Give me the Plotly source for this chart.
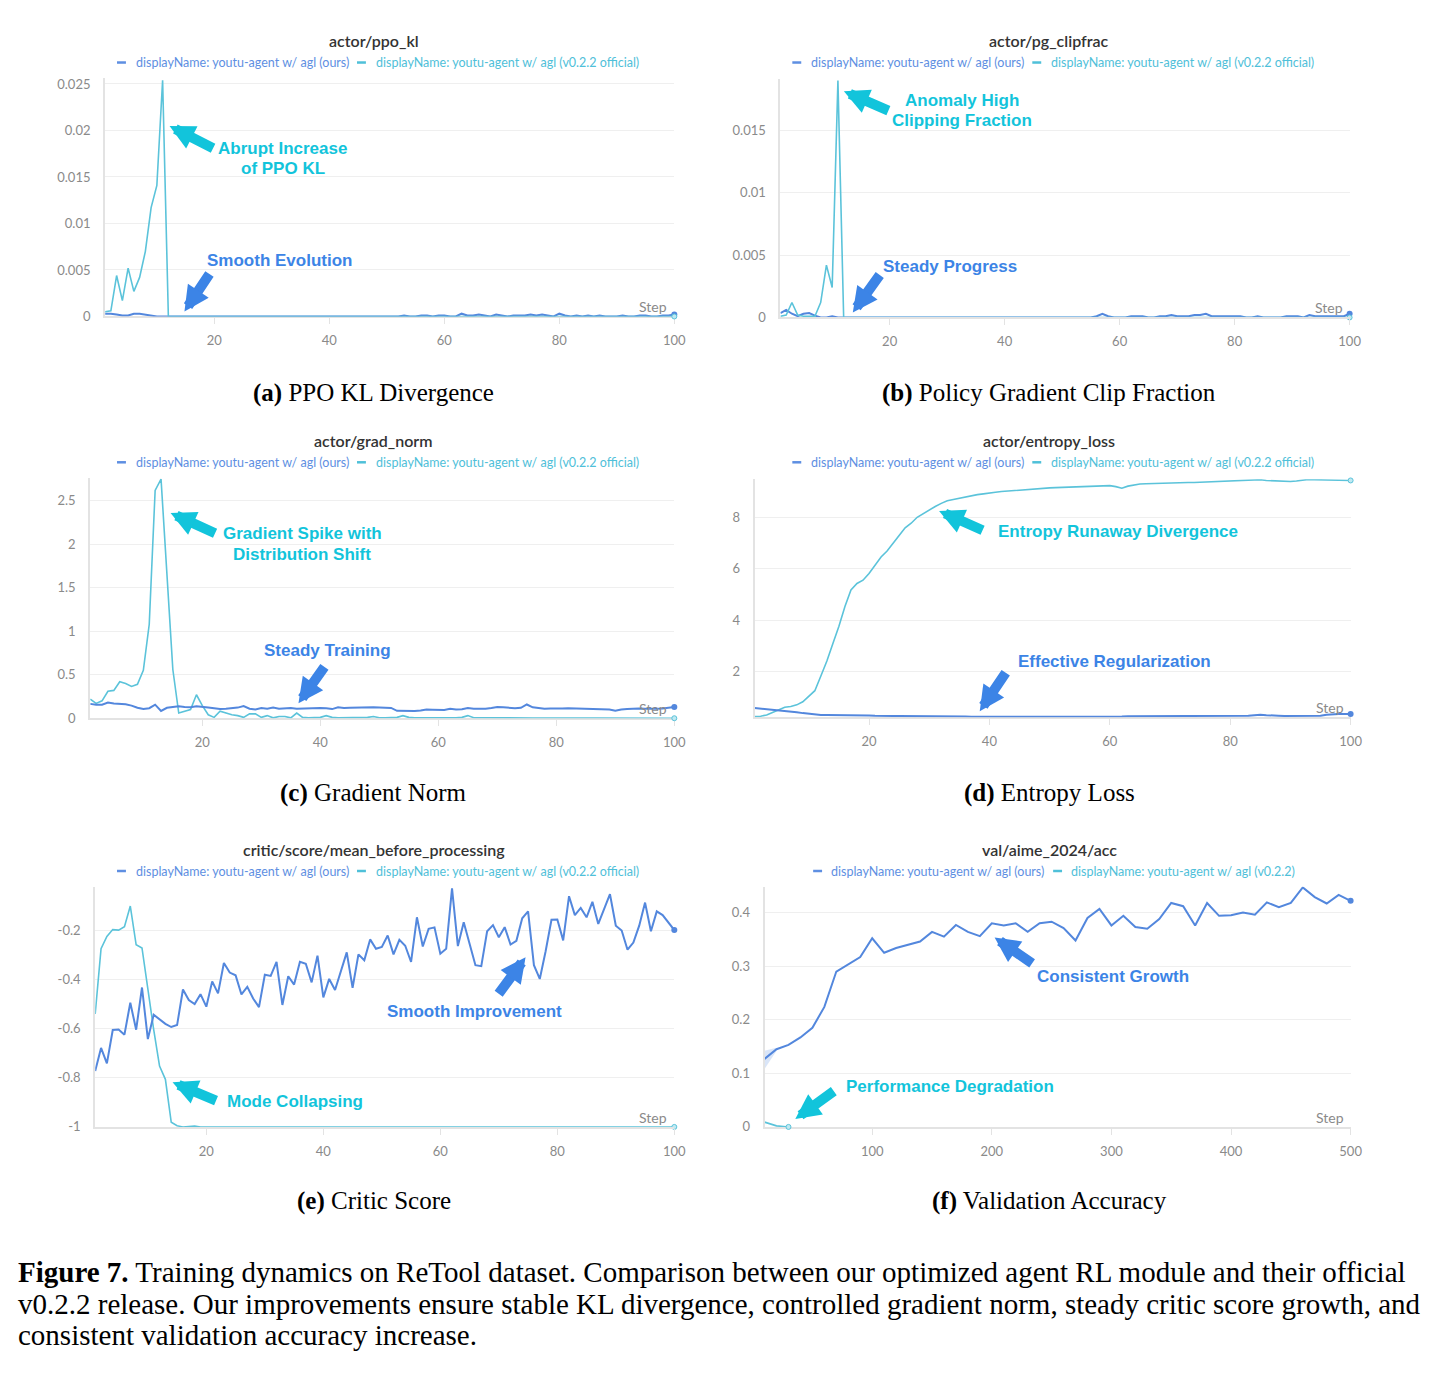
import plotly.graph_objects as go

W, H = 1436, 1375

# ---------------- data ----------------
steps = list(range(1, 101))
val_steps = list(range(10, 510, 10))

kl_ours = [
    0.0003, 0.0003, 0.0002, 0.0001, 0.0001, 0.0003, 0.0003, 0.0002, 0.0001, 0.0,
    0.0, 0.0, 0.0, 0.0, 0.0, 0.0, 0.0, 0.0, 0.0, 0.0,
    0.0, 0.0, 0.0, 0.0, 0.0, 0.0, 0.0, 0.0, 0.0, 0.0,
    0.0, 0.0, 0.0, 0.0, 0.0, 0.0, 0.0, 0.0, 0.0, 0.0,
    0.0, 0.0, 0.0, 0.0, 0.0, 0.0, 0.0, 0.0, 0.0, 0.0,
    0.0, 0.0, 0.0001, 0.0, 0.0, 0.0001, 0.0001, 0.0, 0.0001, 0.0001,
    0.0, 0.0, 0.0003, 0.0001, 0.0001, 0.0002, 0.0001, 0.0, 0.0002, 0.0001,
    0.0, 0.0001, 0.0001, 0.0001, 0.0002, 0.0001, 0.0002, 0.0001, 0.0, 0.0003,
    0.0001, 0.0, 0.0001, 0.0, 0.0001, 0.0, 0.0001, 0.0, 0.0, 0.0,
    0.0001, 0.0, 0.0, 0.0001, 0.0001, 0.0, 0.0, 0.0001, 0.0001, 0.0002,
]
kl_official = [
    0.0005, 0.0006, 0.0044, 0.0017, 0.0052, 0.0027, 0.0042, 0.0070, 0.0117, 0.0141,
    0.0254, 0.0, 0.0, 0.0, 0.0, 0.0, 0.0, 0.0, 0.0, 0.0,
    0.0, 0.0, 0.0, 0.0, 0.0, 0.0, 0.0, 0.0, 0.0, 0.0,
    0.0, 0.0, 0.0, 0.0, 0.0, 0.0, 0.0, 0.0, 0.0, 0.0,
    0.0, 0.0, 0.0, 0.0, 0.0, 0.0, 0.0, 0.0, 0.0, 0.0,
    0.0, 0.0, 0.0, 0.0, 0.0, 0.0, 0.0, 0.0, 0.0, 0.0,
    0.0, 0.0, 0.0, 0.0, 0.0, 0.0, 0.0, 0.0, 0.0, 0.0,
    0.0, 0.0, 0.0, 0.0, 0.0, 0.0, 0.0, 0.0, 0.0, 0.0,
    0.0, 0.0, 0.0, 0.0, 0.0, 0.0, 0.0, 0.0, 0.0, 0.0,
    0.0, 0.0, 0.0, 0.0, 0.0, 0.0, 0.0, 0.0, 0.0, 0.0,
]

clip_ours = [
    0.00035, 0.0006, 0.0003, 0.0001, 0.0003, 0.00035, 0.00015, 0.0, 0.0, 0.0001,
    0.0, 0.0, 0.0, 0.0, 0.0, 0.0, 0.0, 0.0, 0.0, 0.0,
    0.0, 0.0, 0.0, 0.0, 0.0, 0.0, 0.0, 0.0, 0.0, 0.0,
    0.0, 0.0, 0.0, 0.0, 0.0, 0.0, 0.0, 0.0, 0.0, 0.0,
    0.0, 0.0, 0.0, 0.0, 0.0, 0.0, 0.0, 0.0, 0.0, 0.0,
    0.0, 0.0, 0.0, 0.0, 0.0, 0.0001, 0.0003, 0.0001, 0.0, 0.0,
    0.0, 0.0001, 0.0001, 0.0001, 0.0, 0.0, 0.0001, 0.0001, 0.0002, 0.0001,
    0.0001, 0.0001, 0.0002, 0.0002, 0.0003, 0.0001, 0.0001, 0.0001, 0.0001, 0.0001,
    0.0001, 0.0, 0.0, 0.0001, 0.0, 0.0, 0.0, 0.0, 0.0001, 0.0001,
    0.0001, 0.0, 0.0002, 0.0001, 0.0001, 0.0001, 0.0001, 0.0001, 0.0001, 0.0003,
]
clip_official = [
    0.0001, 0.0002, 0.0012, 0.0002, 0.0001, 0.0001, 0.0001, 0.0012, 0.0042, 0.0024,
    0.0190, 0.0, 0.0, 0.0, 0.0, 0.0, 0.0, 0.0, 0.0, 0.0,
    0.0, 0.0, 0.0, 0.0, 0.0, 0.0, 0.0, 0.0, 0.0, 0.0,
    0.0, 0.0, 0.0, 0.0, 0.0, 0.0, 0.0, 0.0, 0.0, 0.0,
    0.0, 0.0, 0.0, 0.0, 0.0, 0.0, 0.0, 0.0, 0.0, 0.0,
    0.0, 0.0, 0.0, 0.0, 0.0, 0.0, 0.0, 0.0, 0.0, 0.0,
    0.0, 0.0, 0.0, 0.0, 0.0, 0.0, 0.0, 0.0, 0.0, 0.0,
    0.0, 0.0, 0.0, 0.0, 0.0, 0.0, 0.0, 0.0, 0.0, 0.0,
    0.0, 0.0, 0.0, 0.0, 0.0, 0.0, 0.0, 0.0, 0.0, 0.0,
    0.0, 0.0, 0.0, 0.0, 0.0, 0.0, 0.0, 0.0, 0.0, 0.0,
]

grad_ours = [
    0.165, 0.155, 0.155, 0.180, 0.170, 0.168, 0.160, 0.145, 0.120, 0.105,
    0.115, 0.156, 0.084, 0.120, 0.130, 0.137, 0.130, 0.125, 0.137, 0.133,
    0.122, 0.114, 0.106, 0.110, 0.118, 0.122, 0.140, 0.110, 0.100, 0.118,
    0.110, 0.122, 0.110, 0.114, 0.118, 0.110, 0.114, 0.118, 0.122, 0.118,
    0.115, 0.105, 0.125, 0.118, 0.120, 0.122, 0.125, 0.128, 0.125, 0.122,
    0.120, 0.118, 0.085, 0.082, 0.085, 0.083, 0.090, 0.100, 0.098, 0.100,
    0.095, 0.108, 0.100, 0.104, 0.118, 0.110, 0.108, 0.110, 0.118, 0.128,
    0.125, 0.120, 0.115, 0.120, 0.158, 0.125, 0.115, 0.110, 0.112, 0.110,
    0.112, 0.115, 0.112, 0.110, 0.108, 0.105, 0.100, 0.095, 0.100, 0.085,
    0.100, 0.105, 0.110, 0.112, 0.110, 0.105, 0.108, 0.112, 0.118, 0.130,
]
grad_official = [
    0.22, 0.17, 0.20, 0.31, 0.32, 0.42, 0.40, 0.365, 0.39, 0.55,
    1.08, 2.62, 2.75, 1.67, 0.56, 0.06, 0.076, 0.10, 0.27, 0.145,
    0.04, 0.01, 0.08, 0.06, 0.04, 0.03, 0.01, 0.05, 0.05, 0.01,
    0.03, 0.005, 0.02, 0.02, 0.005, 0.06, 0.01, 0.005, 0.005, 0.01,
    0.03, 0.01, 0.005, 0.005, 0.005, 0.004, 0.005, 0.01, 0.02, 0.005,
    0.005, 0.004, 0.01, 0.03, 0.01, 0.005, 0.004, 0.005, 0.005, 0.004,
    0.005, 0.004, 0.005, 0.01, 0.03, 0.005, 0.004, 0.005, 0.004, 0.004,
    0.004, 0.003, 0.004, 0.003, 0.004, 0.003, 0.003, 0.004, 0.003, 0.003,
    0.003, 0.003, 0.002, 0.003, 0.002, 0.003, 0.002, 0.002, 0.003, 0.002,
    0.002, 0.002, 0.002, 0.001, 0.002, 0.001, 0.001, 0.001, 0.001, 0.0,
]

entropy_ours = [
    0.59, 0.57, 0.55, 0.52, 0.50, 0.48, 0.45, 0.42, 0.39, 0.36,
    0.34, 0.32, 0.32, 0.32, 0.31, 0.31, 0.30, 0.30, 0.30, 0.30,
    0.29, 0.28, 0.28, 0.28, 0.28, 0.28, 0.27, 0.27, 0.27, 0.27,
    0.27, 0.26, 0.26, 0.26, 0.26, 0.26, 0.25, 0.25, 0.25, 0.25,
    0.245, 0.245, 0.24, 0.24, 0.24, 0.24, 0.24, 0.24, 0.24, 0.24,
    0.24, 0.24, 0.24, 0.24, 0.24, 0.24, 0.24, 0.24, 0.24, 0.245,
    0.25, 0.26, 0.27, 0.27, 0.27, 0.27, 0.27, 0.28, 0.28, 0.28,
    0.28, 0.28, 0.28, 0.28, 0.28, 0.29, 0.29, 0.29, 0.29, 0.29,
    0.29, 0.28, 0.29, 0.31, 0.33, 0.31, 0.29, 0.29, 0.28, 0.28,
    0.28, 0.28, 0.29, 0.28, 0.29, 0.33, 0.35, 0.36, 0.36, 0.36,
]
entropy_official = [
    0.26, 0.27, 0.32, 0.42, 0.53, 0.62, 0.65, 0.71, 0.83, 1.03,
    1.26, 1.83, 2.41, 3.09, 3.76, 4.53, 5.17, 5.42, 5.55, 5.81,
    6.13, 6.45, 6.68, 6.96, 7.28, 7.58, 7.76, 7.99, 8.14, 8.27,
    8.41, 8.53, 8.63, 8.68, 8.73, 8.78, 8.83, 8.87, 8.90, 8.92,
    8.96, 8.99, 9.01, 9.03, 9.04, 9.06, 9.08, 9.10, 9.12, 9.13,
    9.14, 9.15, 9.17, 9.18, 9.19, 9.20, 9.21, 9.21, 9.22, 9.22,
    9.18, 9.12, 9.20, 9.25, 9.28, 9.29, 9.30, 9.31, 9.31, 9.32,
    9.33, 9.33, 9.34, 9.34, 9.35, 9.35, 9.36, 9.36, 9.37, 9.38,
    9.39, 9.40, 9.41, 9.42, 9.45, 9.42, 9.41, 9.40, 9.39, 9.38,
    9.40, 9.43, 9.46, 9.45, 9.44, 9.45, 9.43, 9.44, 9.43, 9.42,
]

critic_ours = [
    -0.772, -0.678, -0.741, -0.605, -0.603, -0.624, -0.494, -0.604, -0.432, -0.642,
    -0.543, -0.561, -0.580, -0.593, -0.585, -0.440, -0.483, -0.499, -0.459, -0.510,
    -0.407, -0.456, -0.332, -0.371, -0.382, -0.460, -0.429, -0.477, -0.512, -0.380,
    -0.385, -0.328, -0.503, -0.386, -0.420, -0.327, -0.335, -0.411, -0.302, -0.472,
    -0.397, -0.442, -0.362, -0.289, -0.433, -0.297, -0.321, -0.236, -0.274, -0.267,
    -0.220, -0.297, -0.238, -0.262, -0.328, -0.146, -0.265, -0.193, -0.187, -0.294,
    -0.274, -0.028, -0.263, -0.166, -0.254, -0.341, -0.345, -0.203, -0.178, -0.227,
    -0.186, -0.257, -0.242, -0.150, -0.122, -0.341, -0.397, -0.284, -0.156, -0.155,
    -0.240, -0.060, -0.137, -0.108, -0.146, -0.083, -0.173, -0.116, -0.052, -0.180,
    -0.200, -0.278, -0.249, -0.180, -0.086, -0.203, -0.122, -0.137, -0.166, -0.198,
]
critic_official = [
    -0.540, -0.274, -0.224, -0.196, -0.198, -0.184, -0.100, -0.258, -0.271, -0.442,
    -0.604, -0.752, -0.806, -0.981, -0.995, -1.0, -0.998, -0.996, -1.0, -1.0,
    -1.0, -1.0, -1.0, -1.0, -1.0, -1.0, -1.0, -1.0, -1.0, -1.0,
    -1.0, -1.0, -1.0, -1.0, -1.0, -1.0, -1.0, -1.0, -1.0, -1.0,
    -1.0, -1.0, -1.0, -1.0, -1.0, -1.0, -1.0, -1.0, -1.0, -1.0,
    -1.0, -1.0, -1.0, -1.0, -1.0, -1.0, -1.0, -1.0, -1.0, -1.0,
    -1.0, -1.0, -1.0, -1.0, -1.0, -1.0, -1.0, -1.0, -1.0, -1.0,
    -1.0, -1.0, -1.0, -1.0, -1.0, -1.0, -1.0, -1.0, -1.0, -1.0,
    -1.0, -1.0, -1.0, -1.0, -1.0, -1.0, -1.0, -1.0, -1.0, -1.0,
    -1.0, -1.0, -1.0, -1.0, -1.0, -1.0, -1.0, -1.0, -1.0, -1.0,
]

acc_ours = [
    0.127, 0.145, 0.153, 0.167, 0.185, 0.224, 0.290, 0.303, 0.317, 0.352,
    0.325, 0.334, 0.340, 0.346, 0.364, 0.355, 0.377, 0.364, 0.356, 0.380,
    0.376, 0.380, 0.364, 0.380, 0.383, 0.371, 0.348, 0.390, 0.407, 0.376,
    0.394, 0.373, 0.370, 0.388, 0.418, 0.412, 0.376, 0.418, 0.394, 0.395,
    0.400, 0.396, 0.419, 0.410, 0.418, 0.447, 0.429, 0.417, 0.433, 0.422,
]
acc_band_steps = [10, 20]
acc_band_hi = [0.142, 0.148]
acc_band_lo = [0.108, 0.142]
acc_official_steps = [10, 20, 30]
acc_official = [0.009, 0.002, 0.0]

# tick labels
kl_yticks = [0, 0.005, 0.01, 0.015, 0.02, 0.025]
kl_ylabels = ["0", "0.005", "0.01", "0.015", "0.02", "0.025"]
clip_yticks = [0, 0.005, 0.01, 0.015]
clip_ylabels = ["0", "0.005", "0.01", "0.015"]
grad_yticks = [0, 0.5, 1, 1.5, 2, 2.5]
grad_ylabels = ["0", "0.5", "1", "1.5", "2", "2.5"]
entropy_yticks = [2, 4, 6, 8]
entropy_ylabels = ["2", "4", "6", "8"]
critic_yticks = [-1, -0.8, -0.6, -0.4, -0.2]
critic_ylabels = ["-1", "-0.8", "-0.6", "-0.4", "-0.2"]
acc_yticks = [0, 0.1, 0.2, 0.3, 0.4]
acc_ylabels = ["0", "0.1", "0.2", "0.3", "0.4"]
step_xticks = [20, 40, 60, 80, 100]
val_xticks = [100, 200, 300, 400, 500]

titles = ["actor/ppo_kl", "actor/pg_clipfrac", "actor/grad_norm",
          "actor/entropy_loss", "critic/score/mean_before_processing", "val/aime_2024/acc"]
legend_ours = "displayName: youtu-agent w/ agl (ours)"
legend_official = "displayName: youtu-agent w/ agl (v0.2.2 official)"
legend_official_f = "displayName: youtu-agent w/ agl (v0.2.2)"
subcaptions = [("(a)", "PPO KL Divergence"), ("(b)", "Policy Gradient Clip Fraction"),
               ("(c)", "Gradient Norm"), ("(d)", "Entropy Loss"),
               ("(e)", "Critic Score"), ("(f)", "Validation Accuracy")]

# ---------------- styling ----------------
BLUE = "#5387DD"
CYAN = "#5BC3DA"
BLUE_TXT = "#3C84E6"
CYAN_TXT = "#12C4DB"
LEG_BLUE = "#5E8FE2"
LEG_CYAN = "#4FC0D9"
AXIS = "#e3e3e3"
GRID = "#efefef"
TICKC = "#8a8a8a"
UI_FONT = "Lato"
ANN_FONT = "Liberation Sans"
SERIF = "Liberation Serif"

panels = [
    dict(xs=steps, ours=kl_ours, off=kl_official, offx=steps, xd=(106, 680), yd=(76, 316),
         xr=[1, 100], yr=[0, 0.0256], yt=kl_yticks, yl=kl_ylabels, xt=step_xticks, cx=377, ty=38, ly=60, leg=0),
    dict(xs=steps, ours=clip_ours, off=clip_official, offx=steps, xd=(787, 1361), yd=(77, 317),
         xr=[1, 100], yr=[0, 0.0191], yt=clip_yticks, yl=clip_ylabels, xt=step_xticks, cx=1058, ty=38, ly=60, leg=1),
    dict(xs=steps, ours=grad_ours, off=grad_official, offx=steps, xd=(91, 680), yd=(479, 721),
         xr=[1, 100], yr=[0, 2.76], yt=grad_yticks, yl=grad_ylabels, xt=step_xticks, cx=377, ty=441, ly=463, leg=0),
    dict(xs=steps, ours=entropy_ours, off=entropy_official, offx=steps, xd=(761, 1362), yd=(480, 720),
         xr=[1, 100], yr=[0.23, 9.47], yt=entropy_yticks, yl=entropy_ylabels, xt=step_xticks, cx=1058, ty=441, ly=463, leg=1),
    dict(xs=steps, ours=critic_ours, off=critic_official, offx=steps, xd=(96, 680), yd=(891, 1133),
         xr=[1, 100], yr=[-1.0, -0.022], yt=critic_yticks, yl=critic_ylabels, xt=step_xticks, cx=377, ty=853, ly=875, leg=0),
    dict(xs=val_steps, ours=acc_ours, off=acc_official, offx=acc_official_steps, xd=(771, 1362), yd=(891, 1133),
         xr=[10, 500], yr=[0, 0.448], yt=acc_yticks, yl=acc_ylabels, xt=val_xticks, cx=1058, ty=853, ly=875, leg=2),
]


def PX(x):
    return x / W


def PY(y):
    return 1 - y / H


fig = go.Figure()
layout = dict(width=W, height=H, margin=dict(l=0, r=0, t=0, b=0), autosize=False,
              paper_bgcolor="white", plot_bgcolor="white", showlegend=False)
annotations = []
shapes = []

for i, p in enumerate(panels):
    k = "" if i == 0 else str(i + 1)
    xa, ya = "x" + k, "y" + k
    layout["xaxis" + k] = dict(
        domain=[PX(p["xd"][0]), PX(p["xd"][1])], range=p["xr"], anchor=ya,
        showgrid=False, zeroline=False, showline=True, linecolor=AXIS, linewidth=2,
        ticks="outside", ticklen=6, tickwidth=1, tickcolor=AXIS,
        tickvals=p["xt"], ticktext=[str(v) for v in p["xt"]],
        tickfont=dict(family=UI_FONT, size=13, color=TICKC), ticklabelstandoff=5,
        layer="above traces" if i in (1, 4) else "below traces",
        fixedrange=True)
    layout["yaxis" + k] = dict(
        domain=[PY(p["yd"][1]), PY(p["yd"][0])], range=p["yr"], anchor=xa,
        showgrid=True, gridcolor=GRID, gridwidth=1, zeroline=False,
        showline=True, linecolor=AXIS, linewidth=2, ticks="",
        tickvals=p["yt"], ticktext=p["yl"],
        tickfont=dict(family=UI_FONT, size=13, color=TICKC), ticklabelstandoff=10,
        fixedrange=True)

    if i == 5:
        fig.add_trace(go.Scatter(x=acc_band_steps + acc_band_steps[::-1], y=acc_band_hi + acc_band_lo[::-1],
                                 fill="toself", fillcolor="rgba(83,135,221,0.22)", line=dict(width=0),
                                 mode="lines", xaxis=xa, yaxis=ya, hoverinfo="skip"))
    order = ["ours", "off"] if i in (0, 1) else ["off", "ours"]
    for s in order:
        if s == "ours":
            fig.add_trace(go.Scatter(x=p["xs"], y=p["ours"], mode="lines",
                                     line=dict(color=BLUE, width=2), xaxis=xa, yaxis=ya))
            fig.add_trace(go.Scatter(x=[p["xs"][-1]], y=[p["ours"][-1]], mode="markers",
                                     marker=dict(color=BLUE, size=6), cliponaxis=False, xaxis=xa, yaxis=ya))
        else:
            fig.add_trace(go.Scatter(x=p["offx"], y=p["off"], mode="lines",
                                     line=dict(color=CYAN, width=1.6), xaxis=xa, yaxis=ya))
            fig.add_trace(go.Scatter(x=[p["offx"][-1]], y=[p["off"][-1]], mode="markers",
                                     marker=dict(color="#bfe9f2", size=5, line=dict(color=CYAN, width=1)),
                                     cliponaxis=False, xaxis=xa, yaxis=ya))

    # title
    annotations.append(dict(x=PX(p["cx"]), y=PY(p["ty"]), xref="paper", yref="paper", text=titles[i],
                            showarrow=False, xanchor="center", yanchor="middle",
                            font=dict(family=UI_FONT, size=16, color="#333333", weight=600)))
    # legend
    if p["leg"] == 0:
        d1, t1, d2, t2 = 118, 135, 360, 377
    elif p["leg"] == 1:
        d1, t1, d2, t2 = 799, 816, 1041, 1058
    else:
        d1, t1, d2, t2 = 820, 836, 1062, 1078
    for dx, tx, col, txt in [(d1, t1, LEG_BLUE, legend_ours),
                             (d2, t2, LEG_CYAN, legend_official_f if p["leg"] == 2 else legend_official)]:
        shapes.append(dict(type="line", xref="paper", yref="paper", x0=PX(dx), x1=PX(dx + 9),
                           y0=PY(p["ly"]), y1=PY(p["ly"]), line=dict(color=col, width=2.5)))
        annotations.append(dict(x=PX(tx), y=PY(p["ly"]), xref="paper", yref="paper", text=txt,
                                showarrow=False, xanchor="left", yanchor="middle",
                                font=dict(family=UI_FONT, size=12.5, color=col)))
    # Step label
    annotations.append(dict(x=PX(p["xd"][1] - 5), y=PY(p["yd"][1] - 10), xref="paper", yref="paper",
                            text="Step", showarrow=False, xanchor="right", yanchor="middle",
                            font=dict(family=UI_FONT, size=14, color="#8a8a8a")))
    # subcaption
    lab, cap = subcaptions[i]
    annotations.append(dict(x=PX(p["cx"]), y=PY([393, 393, 796, 796, 1208, 1208][i]), xref="paper", yref="paper",
                            text="<b>" + lab + "</b> " + cap, showarrow=False, xanchor="center", yanchor="middle",
                            font=dict(family=SERIF, size=25, color="black")))


def label(x, y, text, color):
    annotations.append(dict(x=PX(x), y=PY(y), xref="paper", yref="paper", text="<b>" + text + "</b>",
                            showarrow=False, xanchor="center", yanchor="middle",
                            font=dict(family=ANN_FONT, size=17, color=color)))


def arrow(tip, tail, color):
    annotations.append(dict(x=PX(tip[0]), y=PY(tip[1]), xref="paper", yref="paper",
                            ax=tail[0] - tip[0], ay=tail[1] - tip[1], axref="pixel", ayref="pixel",
                            text="", showarrow=True, arrowhead=2, arrowsize=0.5, arrowwidth=10,
                            arrowcolor=color, standoff=0, startstandoff=0))


# (a)
arrow((171, 124), (216, 147), CYAN_TXT)
label(285, 147, "Abrupt Increase", CYAN_TXT)
label(285, 167, "of PPO KL", CYAN_TXT)
arrow((186, 311), (212, 272), BLUE_TXT)
label(282, 260, "Smooth Evolution", BLUE_TXT)
# (b)
arrow((851, 89), (897, 109), CYAN_TXT)
label(970, 98, "Anomaly High", CYAN_TXT)
label(970, 118, "Clipping Fraction", CYAN_TXT)
arrow((860, 312), (888, 273), BLUE_TXT)
label(958, 266, "Steady Progress", BLUE_TXT)
# (c)
arrow((172, 514), (218, 535), CYAN_TXT)
label(305, 535, "Gradient Spike with", CYAN_TXT)
label(305, 556, "Distribution Shift", CYAN_TXT)
arrow((301, 706), (328, 668), BLUE_TXT)
label(330, 653, "Steady Training", BLUE_TXT)
# (d)
arrow((947, 512), (992, 532), CYAN_TXT)
label(1127, 533, "Entropy Runaway Divergence", CYAN_TXT)
arrow((988, 714), (1015, 674), BLUE_TXT)
label(1124, 664, "Effective Regularization", BLUE_TXT)
# (e)
arrow((174, 1088), (219, 1107), CYAN_TXT)
label(297, 1107, "Mode Collapsing", CYAN_TXT)
arrow((530, 962), (502, 1000), BLUE_TXT)
label(479, 1017, "Smooth Improvement", BLUE_TXT)
# (f)
arrow((1003, 942), (1042, 969), BLUE_TXT)
label(1122, 981, "Consistent Growth", BLUE_TXT)
arrow((802, 1125), (842, 1096), CYAN_TXT)
label(958, 1092, "Performance Degradation", CYAN_TXT)

# figure caption
caption_lines = [
    "<b>Figure 7.</b> Training dynamics on ReTool dataset. Comparison between our optimized agent RL module and their official",
    "v0.2.2 release. Our improvements ensure stable KL divergence, controlled gradient norm, steady critic score growth, and",
    "consistent validation accuracy increase.",
]
for j, (line, yy) in enumerate(zip(caption_lines, [1279, 1311, 1343])):
    annotations.append(dict(x=PX(16), y=PY(yy), xref="paper", yref="paper", text=line, showarrow=False,
                            xanchor="left", yanchor="middle", font=dict(family=SERIF, size=29, color="black")))

layout["annotations"] = annotations
layout["shapes"] = shapes
fig.update_layout(**layout)
fig.write_html("out.html")
